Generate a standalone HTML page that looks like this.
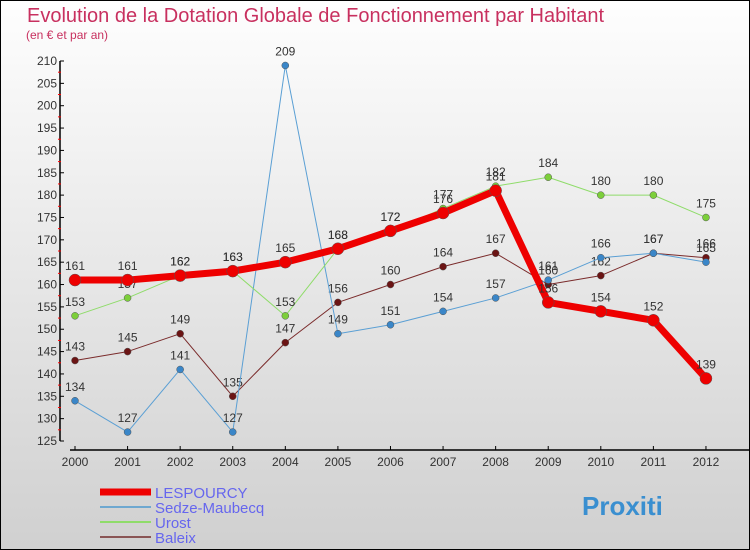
<!DOCTYPE html>
<html><head><meta charset="utf-8"><style>
body{margin:0;width:750px;height:550px;overflow:hidden;font-family:"Liberation Sans",sans-serif}
#wrap{position:absolute;left:0;top:0;width:748px;height:548px;border:1px solid #000;background:linear-gradient(#fefefe,#d0d0d0)}
</style></head><body>
<div id="wrap">
<svg id="c" width="750" height="550" style="position:absolute;left:-1px;top:-1px">
<text x="27" y="22" font-size="20" fill="#c8305f">Evolution de la Dotation Globale de Fonctionnement par Habitant</text>
<text x="26" y="39" font-size="12" fill="#c8305f">(en € et par an)</text>
<g id="axes"></g><g id="series"></g><g id="legend"></g>
</svg></div>
<script>
const years=[2000,2001,2002,2003,2004,2005,2006,2007,2008,2009,2010,2011,2012];
const yTicks=[125,130,135,140,145,150,155,160,165,170,175,180,185,190,195,200,205,210];
const lespourcy=[161,161,162,163,165,168,172,176,181,156,154,152,139];
const sedze=[134,127,141,127,209,149,151,154,157,161,166,167,165];
const urost=[153,157,162,163,153,168,172,177,182,184,180,180,175];
const baleix=[143,145,149,135,147,156,160,164,167,160,162,167,166];
const NS="http://www.w3.org/2000/svg";
const X=i=>75+i*52.58, Y=v=>441-(v-125)*380/85;
function mk(p,t,a){const e=document.createElementNS(NS,t);for(const k in a)e.setAttribute(k,a[k]);p.appendChild(e);return e;}
const ax=document.getElementById('axes');
let e=mk(ax,'line',{x1:60,y1:61,x2:60,y2:441,stroke:'#000','stroke-width':1.5});

e=mk(ax,'line',{x1:70,y1:450,x2:750,y2:450,stroke:'#000','stroke-width':1.5});

yTicks.forEach(v=>{
 mk(ax,'line',{x1:60,y1:Y(v),x2:64,y2:Y(v),stroke:'#000'});
 if(v<210)mk(ax,'line',{x1:58,y1:Y(v+2.5),x2:61,y2:Y(v+2.5),stroke:'#f00'});
 const t=mk(ax,'text',{x:57,y:Y(v)+4,'font-size':12,fill:'#333','text-anchor':'end'});t.textContent=v;
 
});
years.forEach((y,i)=>{
 mk(ax,'line',{x1:X(i),y1:446,x2:X(i),y2:450,stroke:'#000'});
 const t=mk(ax,'text',{x:X(i),y:466,'font-size':12,fill:'#333','text-anchor':'middle'});t.textContent=y;
 
});
const sg=document.getElementById('series');
function series(name,data,col,w,r,dot){
 const g=mk(sg,'g',{});
 
 const p=mk(g,'polyline',{points:data.map((v,i)=>X(i)+','+Y(v)).join(' '),fill:'none',stroke:col,'stroke-width':w,'stroke-linejoin':'round'});
 
 data.forEach((v,i)=>{
  const c=mk(g,'circle',{cx:X(i),cy:Y(v),r:r,fill:dot,stroke:'#555','stroke-width':0.5});
  
  const t=mk(g,'text',{x:X(i),y:Y(v)-10,'font-size':12,fill:'#333','text-anchor':'middle'});t.textContent=v;
  
 });
}
series('baleix',baleix,'#7a2b2b',1,3.5,'#6b1414');
series('sedze-maubecq',sedze,'#5a9fd4',1,3.5,'#3a86c8');
series('urost',urost,'#8fdc6a',1,3.5,'#7ccf3a');
series('lespourcy',lespourcy,'#ee0000',7,6,'#ee0000');
const lg=document.getElementById('legend');
[['LESPOURCY','#ee0000',7],['Sedze-Maubecq','#6ea8d0',2],['Urost','#8fdc6a',2],['Baleix','#8a5555',2]].forEach((d,i)=>{
 const y=492+i*15;
 const g=mk(lg,'g',{});
 mk(g,'line',{x1:100,y1:y,x2:151,y2:y,stroke:d[1],'stroke-width':d[2]});
 const t=mk(g,'text',{x:155,y:y+6,'font-size':15,fill:'#6666ee'});t.textContent=d[0];
});
const b=mk(lg,'text',{x:582,y:515,'font-size':26,'font-weight':'bold',fill:'#3a8fd0'});b.textContent='Proxiti';

</script></body></html>
